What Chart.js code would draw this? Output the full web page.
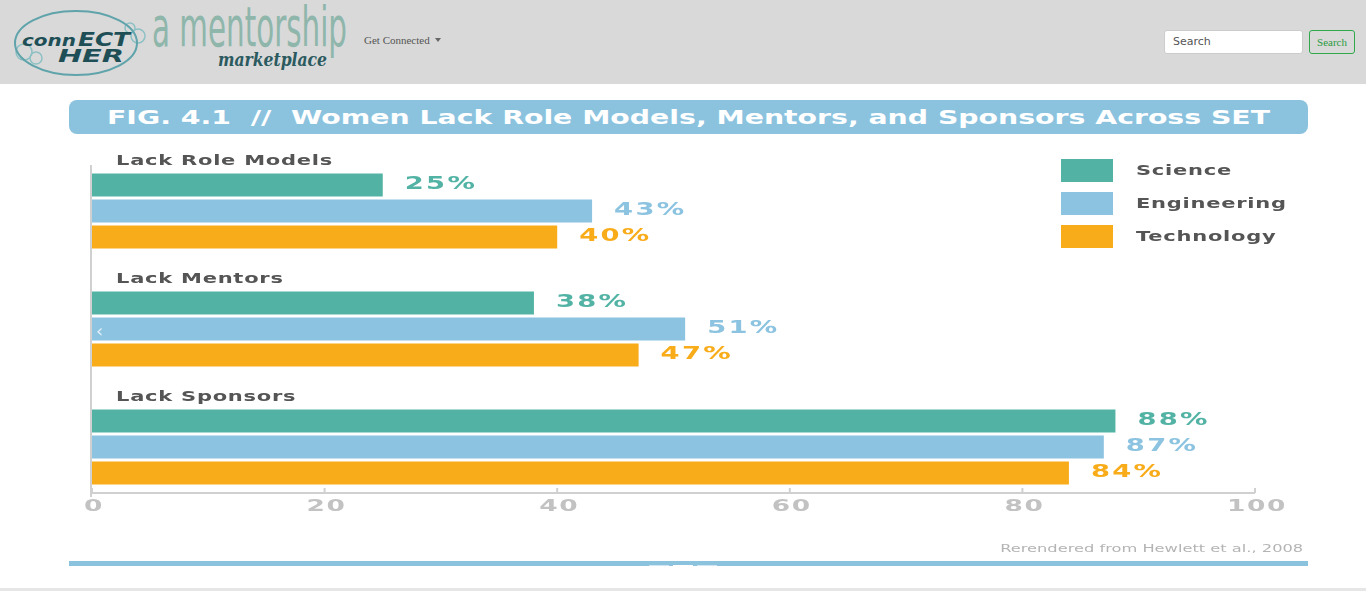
<!DOCTYPE html>
<html>
<head>
<meta charset="utf-8">
<title>Women Lack Role Models, Mentors, and Sponsors Across SET</title>
<script src="https://cdn.jsdelivr.net/npm/chart.js@4.4.1/dist/chart.umd.min.js"></script>
<style>
    html, body { margin: 0; padding: 0; background: #fff; width: 1366px; height: 591px; overflow: hidden; font-family: "DejaVu Sans", sans-serif; }
    .navbar { position: absolute; left: 0; top: 0; width: 1366px; height: 84px; background: #d9d9d9; }
    .brand { position: absolute; left: 0; top: 0; }
    .nav-link { position: absolute; left: 364px; top: 34px; font: 11px "Liberation Serif", serif; color: #555; }
    .caret { display: inline-block; margin-left: 5px; width: 0; height: 0; border-left: 3px solid transparent; border-right: 3px solid transparent; border-top: 4px solid #666; vertical-align: 2px; }
    .search-input { position: absolute; left: 1164px; top: 30px; width: 137px; height: 22px; background: #fff; border: 1px solid #ccc; border-radius: 3px; font: 11px "DejaVu Sans", sans-serif; color: #555; line-height: 22px; text-indent: 8px; box-sizing: content-box; }
    .search-btn { position: absolute; left: 1309px; top: 30px; width: 44px; height: 22px; border: 1px solid #2eaa4a; border-radius: 3px; font: 11px "Liberation Serif", serif; color: #2a9a40; line-height: 22px; text-align: center; }
    .fig-title { position: absolute; left: 69px; top: 100px; width: 1239px; height: 34px; background: #8bc3df; border-radius: 8px; overflow: hidden; }
    .fig-title span { position: absolute; left: 38px; top: 6px; font: bold 19px "DejaVu Sans", sans-serif; color: #fff; white-space: pre; transform-origin: 0 50%; }
    #chart-box { position: absolute; left: 0; top: 84px; width: 1366px; height: 470px; }
    .credit { position: absolute; right: 63px; top: 542px; font: 11px "DejaVu Sans", sans-serif; color: #b4b4b4; white-space: pre; transform-origin: 100% 50%; }
    .bottom-bar { position: absolute; left: 69px; top: 561px; width: 1239px; height: 5px; background: #8bc3df; }
    .dot { position: absolute; top: 565px; height: 3px; width: 20px; background: rgba(255,255,255,0.6); }
    .arrow { position: absolute; left: 96px; top: 320px; font: 18px "DejaVu Sans", sans-serif; color: rgba(255,255,255,0.75); }
    .page-edge { position: absolute; left: 0; top: 588px; width: 1366px; height: 3px; background: #e6e6e6; }
</style>
</head>
<body>
<div class="navbar">
    <svg class="brand" width="360" height="84">
        <circle cx="24" cy="52" r="8" fill="none" stroke="#8cc0c4" stroke-width="1.5"/>
        <circle cx="36" cy="58" r="6" fill="none" stroke="#8cc0c4" stroke-width="1.5"/>
        <circle cx="138" cy="36" r="7" fill="none" stroke="#8cc0c4" stroke-width="1.5"/>
        <circle cx="130" cy="28" r="5" fill="none" stroke="#8cc0c4" stroke-width="1.5"/>
        <ellipse cx="76" cy="43" rx="61" ry="32" fill="none" stroke="#5fa3ab" stroke-width="2"/>
        <text x="22" y="46" font-family="DejaVu Sans" font-style="italic" font-weight="bold" font-size="15" fill="#1f4f56" textLength="54" lengthAdjust="spacingAndGlyphs">conn</text>
        <text x="78" y="46" font-family="DejaVu Sans" font-style="italic" font-weight="bold" font-size="20" fill="#1f4f56" textLength="52" lengthAdjust="spacingAndGlyphs">ECT</text>
        <text x="58" y="62" font-family="DejaVu Sans" font-style="italic" font-weight="bold" font-size="17" fill="#1f4f56" textLength="66" lengthAdjust="spacingAndGlyphs">HER</text>
        <text x="152" y="46" font-family="DejaVu Sans Condensed, DejaVu Sans" font-weight="200" font-size="42" fill="#8fb6ab" textLength="195" lengthAdjust="spacingAndGlyphs" transform="translate(0,-14) scale(1,1.3)">a mentorship</text>
        <text x="218" y="66" font-family="DejaVu Serif" font-style="italic" font-weight="bold" font-size="19" fill="#2b5a5f" textLength="109" lengthAdjust="spacingAndGlyphs">marketplace</text>
    </svg>
    <div class="nav-link">Get Connected<span class="caret"></span></div>
    <div class="search-input">Search</div>
    <div class="search-btn">Search</div>
</div>

<div class="fig-title"><span id="fig-title-text"></span></div>
<div id="chart-box"><canvas id="set-chart"></canvas></div>
<div class="arrow">&#8249;</div>
<div class="credit" id="credit">Rerendered from Hewlett et al., 2008</div>
<div class="bottom-bar"></div>
<div class="dot" style="left:649px"></div>
<div class="dot" style="left:673px; background:#fff"></div>
<div class="dot" style="left:697px"></div>
<div class="page-edge"></div>

<script>
const figureTitle = 'FIG. 4.1  //  Women Lack Role Models, Mentors, and Sponsors Across SET';
const categories = ['Lack Role Models', 'Lack Mentors', 'Lack Sponsors'];
const seriesNames = ['Science', 'Engineering', 'Technology'];
const science = [25, 38, 88];
const engineering = [43, 51, 87];
const technology = [40, 47, 84];
const xTicks = [0, 20, 40, 60, 80, 100];

// stretch an html label to a given width
function fitWidth(el, w) {
    const natural = el.getBoundingClientRect().width;
    el.style.transform = 'scaleX(' + (w / natural) + ')';
}

const titleEl = document.getElementById('fig-title-text');
titleEl.textContent = figureTitle;
fitWidth(titleEl, 1163);
fitWidth(document.getElementById('credit'), 303);

// the original graphic uses a wide display face, so text is drawn stretched
function wideText(ctx, text, x, y, opts) {
    ctx.save();
    ctx.font = opts.font;
    ctx.fillStyle = opts.color;
    ctx.textBaseline = 'middle';
    ctx.textAlign = 'left';
    if ('letterSpacing' in ctx) ctx.letterSpacing = (opts.spacing || 0) + 'px';
    const w = ctx.measureText(text).width * opts.sx;
    let left = x;
    if (opts.align === 'center') left = x - w / 2;
    if (opts.align === 'right') left = x - w;
    ctx.translate(left, y);
    ctx.scale(opts.sx, 1);
    ctx.fillText(text, 0, 0);
    ctx.restore();
}

const axisPlugin = {
    id: 'axisLines',
    beforeDatasetsDraw(chart) {
        const { ctx, chartArea, scales } = chart;
        ctx.save();
        ctx.strokeStyle = '#d0d0d0';
        ctx.lineWidth = 2;
        ctx.beginPath();
        ctx.moveTo(chartArea.left - 1, chartArea.top);
        ctx.lineTo(chartArea.left - 1, chartArea.bottom + 4);
        ctx.moveTo(chartArea.left - 1, chartArea.bottom);
        ctx.lineTo(chartArea.right, chartArea.bottom);
        xTicks.forEach(t => {
            const px = scales.x.getPixelForValue(t);
            ctx.moveTo(px, chartArea.bottom);
            ctx.lineTo(px, chartArea.bottom - 5);
        });
        ctx.stroke();
        ctx.restore();

        xTicks.forEach(t => {
            wideText(ctx, String(t), scales.x.getPixelForValue(t) + 2, chartArea.bottom + 14,
                { font: 'bold 16px "DejaVu Sans"', color: '#c2c2c2', sx: 1.65, spacing: 1, align: 'center' });
        });
    }
};

const labelPlugin = {
    id: 'figureLabels',
    afterDatasetsDraw(chart) {
        const { ctx, chartArea, scales } = chart;

        categories.forEach((name, i) => {
            wideText(ctx, name, chartArea.left + 24, scales.y.getPixelForValue(i) - 50,
                { font: 'bold 14px "DejaVu Sans"', color: '#555', sx: 1.5, spacing: 0.5 });
        });

        chart.data.datasets.forEach((ds, d) => {
            const meta = chart.getDatasetMeta(d);
            meta.data.forEach((bar, i) => {
                wideText(ctx, ds.data[i].x + '%', bar.x + 22, bar.y - 1,
                    { font: 'bold 18px "DejaVu Sans"', color: ds.backgroundColor, sx: 1.52, spacing: 1.5 });
            });

            // legend
            ctx.fillStyle = ds.backgroundColor;
            ctx.fillRect(1061, 75 + d * 33, 52, 23);
            wideText(ctx, ds.label, 1136, 87 + d * 33,
                { font: 'bold 14px "DejaVu Sans"', color: '#555', sx: 1.5, spacing: 0.5 });
        });
    }
};

function toPoints(values) {
    return values.map((v, i) => ({ x: v, y: i }));
}

new Chart(document.getElementById('set-chart'), {
    type: 'bar',
    data: {
        datasets: [
            { label: seriesNames[0], data: toPoints(science), backgroundColor: '#52b3a5' },
            { label: seriesNames[1], data: toPoints(engineering), backgroundColor: '#8bc3e0' },
            { label: seriesNames[2], data: toPoints(technology), backgroundColor: '#f9ac1a' }
        ]
    },
    options: {
        indexAxis: 'y',
        responsive: true,
        maintainAspectRatio: false,
        animation: false,
        categoryPercentage: 0.661,
        barPercentage: 0.885,
        layout: { padding: { left: 92, right: 111, top: 81, bottom: 61 } },
        scales: {
            x: { type: 'linear', min: 0, max: 100, display: false },
            y: {
                type: 'linear', min: -0.39, max: 2.39, reverse: true, offset: false, display: false,
                // one tick per category so bar width follows the category spacing
                afterBuildTicks(axis) {
                    axis.ticks = categories.map((c, i) => ({ value: i }));
                }
            }
        },
        plugins: {
            legend: { display: false },
            tooltip: { enabled: false }
        }
    },
    plugins: [axisPlugin, labelPlugin]
});
</script>
</body>
</html>
